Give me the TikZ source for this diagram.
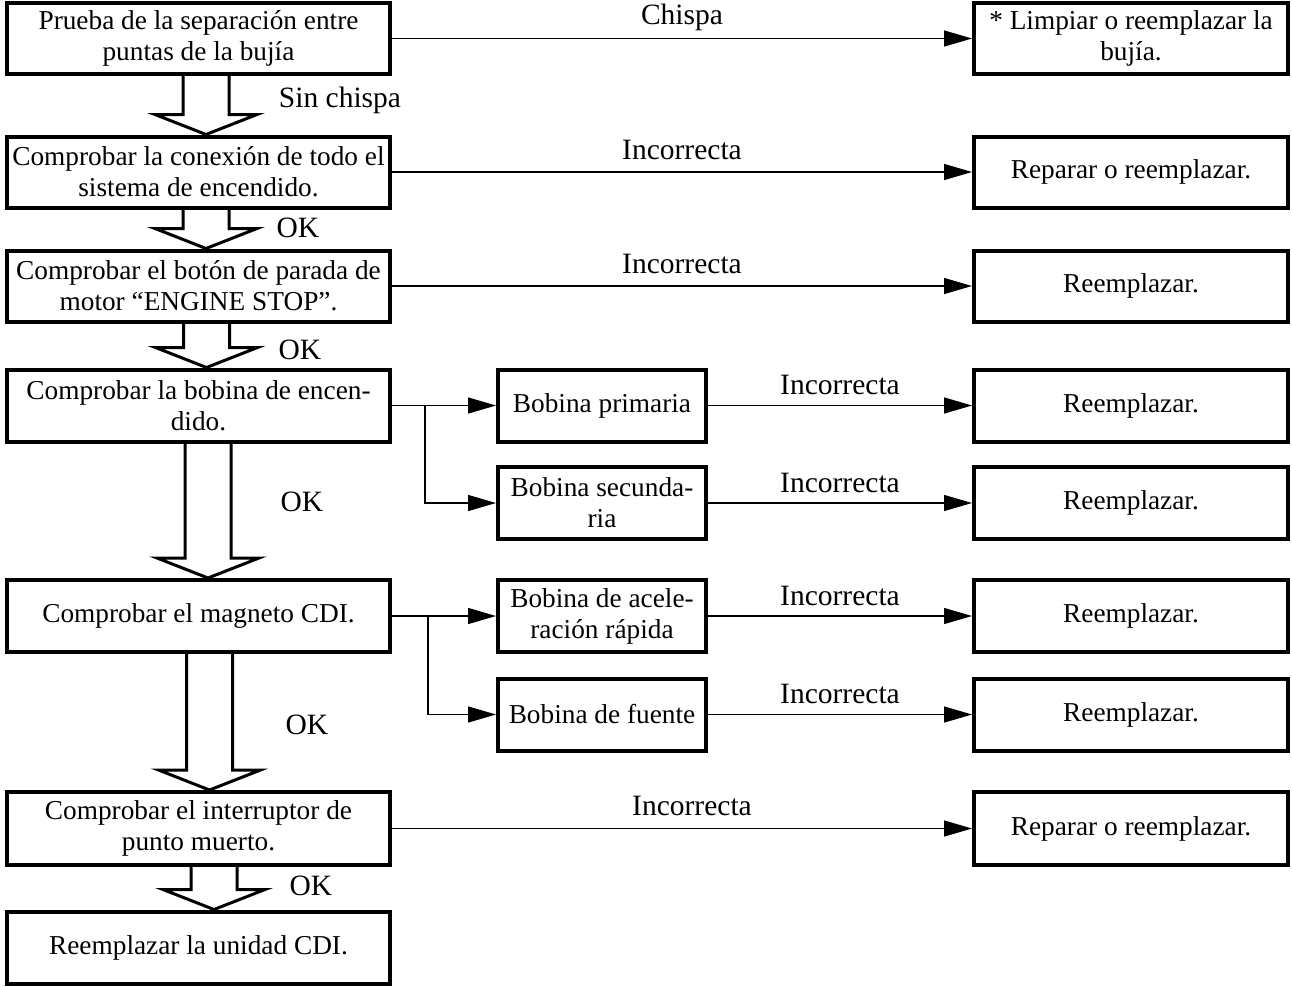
\documentclass[tikz,border=0pt]{standalone}
\usepackage{fontspec}
\setmainfont{Liberation Serif}
\usetikzlibrary{arrows.meta,calc}

\newcommand{\okarrow}[3]{%
  \draw[hollow] let \p1=($(#1.south)+(#3,0)$), \p2=($(#2.north)+(#3,0)$) in
    (\x1-23pt,\y1) -- (\x1-23pt,\y2+20pt) -- (\x1-51pt,\y2+20pt) -- (\x1,\y2)
    -- (\x1+51pt,\y2+20pt) -- (\x1+23pt,\y2+20pt) -- (\x1+23pt,\y1);}

\begin{document}
\begin{tikzpicture}[x=1pt,y=-1pt,
  box/.style={draw,line width=4pt,align=center,inner sep=2pt,font=\fontsize{27.3}{31}\selectfont},
  lbox/.style={box,minimum width=383pt,minimum height=71pt},
  mbox/.style={box,minimum width=208pt,minimum height=71pt},
  rbox/.style={box,minimum width=314pt,minimum height=71pt},
  conn/.style={line width=1.3pt,-{Triangle[length=28pt,width=16pt]}},
  hollow/.style={line width=3pt,line join=miter},
  lbl/.style={font=\fontsize{29.5}{33}\selectfont,inner sep=0pt}]
  \useasboundingbox (0,0) rectangle (1292,986);

  \node[lbox] (b1) at (198.5,38.5) {Prueba de la separación entre\\puntas de la bujía};
  \node[lbox] (b2) at (198.5,172) {Comprobar la conexión de todo el\\sistema de encendido.};
  \node[lbox] (b3) at (198.5,286) {Comprobar el botón de parada de\\motor “ENGINE STOP”.};
  \node[lbox,minimum height=72pt] (b4) at (198.5,405.5) {Comprobar la bobina de encen-\\dido.};
  \node[lbox,minimum height=72pt] (b5) at (198.5,616) {Comprobar el magneto CDI.};
  \node[lbox,minimum height=73pt] (b6) at (198.5,828.5) {Comprobar el interruptor de\\punto muerto.};
  \node[lbox,minimum height=72pt] (b7) at (198.5,947.5) {Reemplazar la unidad CDI.};

  \node[mbox,minimum height=72pt] (m1) at (602,405.5) {Bobina primaria};
  \node[mbox,minimum height=72pt] (m2) at (602,503) {Bobina secunda-\\ria};
  \node[mbox,minimum height=72pt] (m3) at (602,616) {Bobina de acele-\\ración rápida};
  \node[mbox,minimum height=72pt] (m4) at (602,714.5) {Bobina de fuente};

  \node[rbox] (r1) at (1131,38.5) {* Limpiar o reemplazar la\\bujía.};
  \node[rbox] (r2) at (1131,172) {Reparar o reemplazar.};
  \node[rbox] (r3) at (1131,286) {Reemplazar.};
  \node[rbox,minimum height=72pt] (r4) at (1131,405.5) {Reemplazar.};
  \node[rbox,minimum height=72pt] (r5) at (1131,503) {Reemplazar.};
  \node[rbox,minimum height=72pt] (r6) at (1131,616) {Reemplazar.};
  \node[rbox,minimum height=72pt] (r7) at (1131,714.5) {Reemplazar.};
  \node[rbox,minimum height=73pt] (r8) at (1131,828.5) {Reparar o reemplazar.};

  \okarrow{b1}{b2}{7.5}
  \okarrow{b2}{b3}{7.5}
  \okarrow{b3}{b4}{8}
  \okarrow{b4}{b5}{9.5}
  \okarrow{b5}{b6}{11}
  \okarrow{b6}{b7}{15.5}
  \node[lbl] (s1) at (340,100) {Sin chispa};
  \node[lbl] (k2) at (298,228) {OK};
  \node[lbl] (k3) at (300,350) {OK};
  \node[lbl] (k4) at (302,502) {OK};
  \node[lbl] (k5) at (307,725) {OK};
  \node[lbl] (k6) at (311,886) {OK};

  \draw[conn] (b1.east) -- node[lbl,above=7pt] {Chispa} (r1.west);
  \draw[conn] (b2.east) -- node[lbl,above=12pt] {Incorrecta} (r2.west);
  \draw[conn] (b3.east) -- node[lbl,above=12pt] {Incorrecta} (r3.west);
  \draw[conn] (b6.east) -- node[lbl,above=12pt,xshift=10pt] {Incorrecta} (r8.west);

  \coordinate (j4) at ($(b4.east)+(33,0)$);
  \coordinate (j5) at ($(b5.east)+(36,0)$);
  \draw[conn] (b4.east) -- (m1.west);
  \draw[conn] (j4) |- (m2.west);
  \draw[conn] (b5.east) -- (m3.west);
  \draw[conn] (j5) |- (m4.west);

  \draw[conn] (m1.east) -- node[lbl,above=10pt] {Incorrecta} (r4.west);
  \draw[conn] (m2.east) -- node[lbl,above=10pt] {Incorrecta} (r5.west);
  \draw[conn] (m3.east) -- node[lbl,above=10pt] {Incorrecta} (r6.west);
  \draw[conn] (m4.east) -- node[lbl,above=10pt] {Incorrecta} (r7.west);
\end{tikzpicture}
\end{document}
